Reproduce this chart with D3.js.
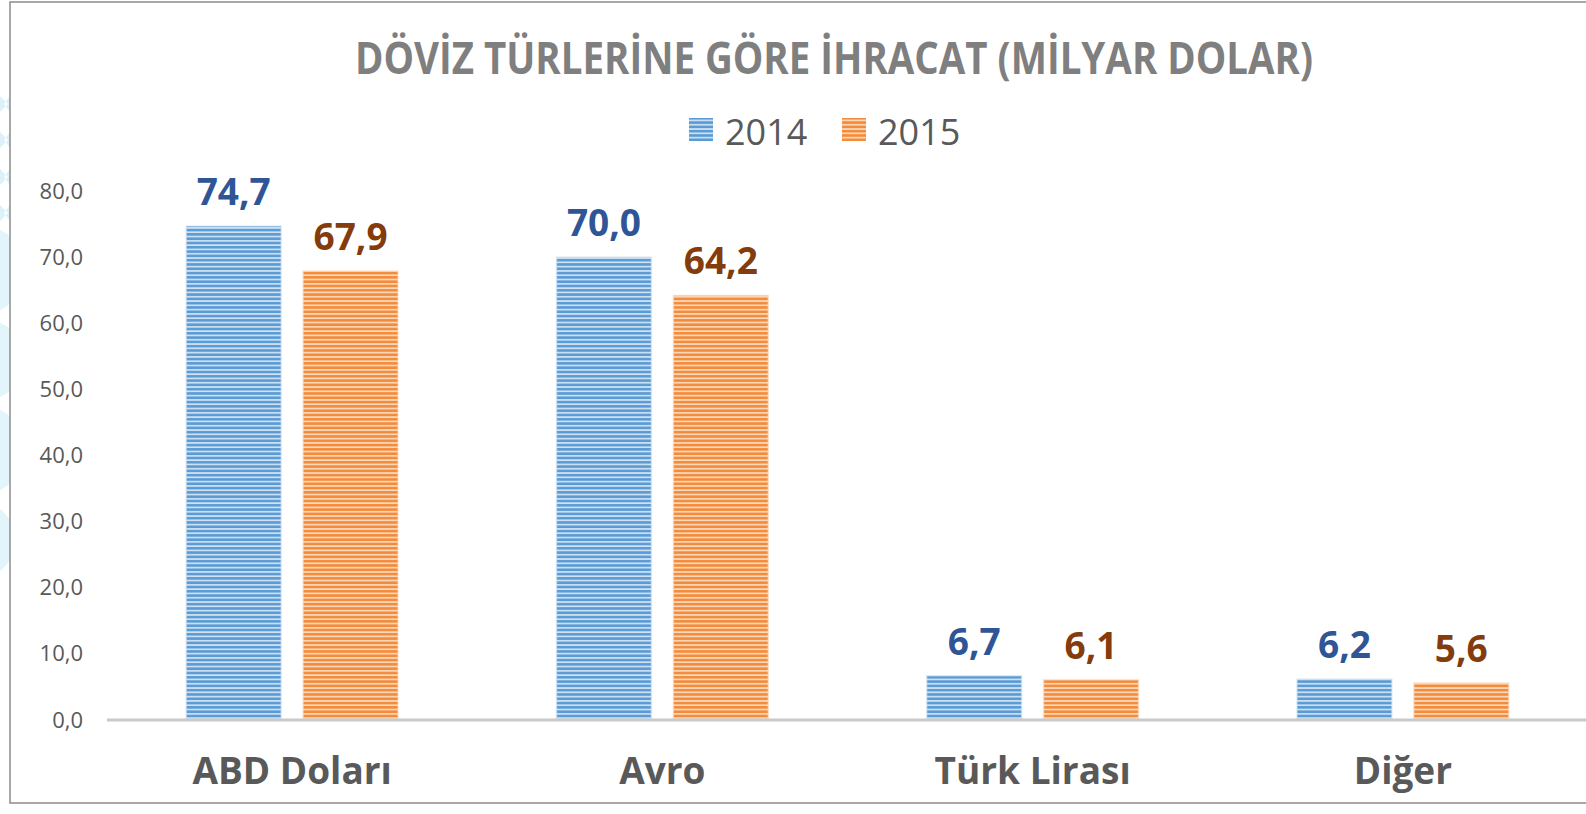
<!DOCTYPE html>
<html>
<head>
<meta charset="utf-8">
<script src="https://cdn.jsdelivr.net/npm/d3@7"></script>
<style>
  html, body { margin: 0; padding: 0; background: #ffffff; }
  svg { display: block; }
</style>
</head>
<body>
<svg id="chart" width="1586" height="814"></svg>
<script>
const title = "DÖVİZ TÜRLERİNE GÖRE İHRACAT (MİLYAR DOLAR)";
const categories = ["ABD Doları", "Avro", "Türk Lirası", "Diğer"];
const years = ["2014", "2015"];
const values2014 = [74.7, 70.0, 6.7, 6.2];
const values2015 = [67.9, 64.2, 6.1, 5.6];
const yTicks = [0, 10, 20, 30, 40, 50, 60, 70, 80];

const seriesValues = { "2014": values2014, "2015": values2015 };
const seriesStyle = {
  "2014": { dark: "#5b9bd5", light: "#cfe2f3", label: "#2f5597" },
  "2015": { dark: "#f28c3c", light: "#fcd9bb", label: "#843c0c" }
};

const fmt = v => v.toFixed(1).replace(".", ",");
const svg = d3.select("#chart");
const defs = svg.append("defs");

// stripe patterns
years.forEach(y => {
  const st = seriesStyle[y];
  const p = defs.append("pattern")
    .attr("id", "stripe" + y)
    .attr("patternUnits", "userSpaceOnUse")
    .attr("width", 8).attr("height", 4.3);
  p.append("rect").attr("width", 8).attr("height", 4.3).attr("fill", st.light);
  p.append("rect").attr("y", 0.9).attr("width", 8).attr("height", 2.6).attr("fill", st.dark);
});

// faint decorative background at the far left (outside border)
const clip = defs.append("clipPath").attr("id", "leftclip");
clip.append("rect").attr("x", 0).attr("y", 0).attr("width", 10).attr("height", 814);
const deco = svg.append("g").attr("clip-path", "url(#leftclip)");
[104, 140, 177, 213].forEach(cy => {
  deco.append("path")
    .attr("d", `M0,${cy-8} L8,${cy} L0,${cy+8} Z M10,${cy-8} L4,${cy} L10,${cy+8} Z`)
    .attr("fill", "#dcf2f8");
});
[[ -20, 270, 45], [-15, 360, 40], [-20, 450, 45], [-25, 540, 40]].forEach(([cx, cy, r]) => {
  deco.append("circle").attr("cx", cx).attr("cy", cy).attr("r", r).attr("fill", "#e2f5fa");
});

// border
svg.append("path")
  .attr("d", "M1586,2 L10,2 L10,803 L1586,803")
  .attr("fill", "none").attr("stroke", "#8c8c8c").attr("stroke-width", 1.5);

// scales
const x0 = d3.scaleBand().domain(categories).range([107, 1588])
  .paddingInner(0.428).paddingOuter(0.214);
const x1 = d3.scaleBand().domain(years).range([0, x0.bandwidth()])
  .paddingInner(0.188).paddingOuter(0);
const y = d3.scaleLinear().domain([0, 80]).range([720, 191]);

// title
svg.append("text")
  .attr("x", 834).attr("y", 74)
  .attr("text-anchor", "middle")
  .attr("font-family", "'Open Sans', sans-serif")
  .attr("font-weight", 700)
  .attr("font-size", 45)
  .attr("fill", "#7f7f7f")
  .attr("textLength", 958)
  .attr("lengthAdjust", "spacingAndGlyphs")
  .text(title);

// legend
const legendPos = { "2014": 689, "2015": 842 };
years.forEach(yr => {
  const g = svg.append("g");
  g.append("rect").attr("x", legendPos[yr]).attr("y", 118)
    .attr("width", 24).attr("height", 23)
    .attr("fill", `url(#stripe${yr})`);
  g.append("text").attr("x", legendPos[yr] + 36).attr("y", 145)
    .attr("font-family", "'Open Sans', sans-serif")
    .attr("font-size", 36).attr("fill", "#595959")
    .text(yr);
});

// y axis (labels only)
const yAxis = d3.axisLeft(y).tickValues(yTicks).tickFormat(fmt).tickSize(0).tickPadding(0);
const yg = svg.append("g").attr("transform", "translate(83,0)").call(yAxis);
yg.select(".domain").remove();
yg.selectAll("text")
  .attr("font-family", "'Open Sans', sans-serif")
  .attr("font-size", 22)
  .attr("fill", "#595959");

// bars
const groups = svg.append("g").selectAll("g")
  .data(categories).join("g")
  .attr("transform", d => `translate(${x0(d)},0)`);

groups.each(function(cat, i) {
  const g = d3.select(this);
  years.forEach(yr => {
    const v = seriesValues[yr][i];
    g.append("rect")
      .attr("x", x1(yr)).attr("y", y(v))
      .attr("width", x1.bandwidth()).attr("height", y(0) - y(v))
      .attr("fill", `url(#stripe${yr})`)
      .attr("stroke", seriesStyle[yr].light)
      .attr("stroke-opacity", 0.6)
      .attr("stroke-width", 1.5);
    g.append("text")
      .attr("x", x1(yr) + x1.bandwidth() / 2)
      .attr("y", y(v) - 21)
      .attr("text-anchor", "middle")
      .attr("font-family", "'Open Sans', sans-serif")
      .attr("font-weight", 700)
      .attr("font-size", 37)
      .attr("fill", seriesStyle[yr].label)
      .text(fmt(v));
  });
});

// baseline
svg.append("line")
  .attr("x1", 107).attr("x2", 1586)
  .attr("y1", y(0)).attr("y2", y(0))
  .attr("stroke", "#c9c9c9").attr("stroke-width", 3);

// x axis labels
const xAxis = d3.axisBottom(x0).tickSize(0).tickPadding(0);
const xg = svg.append("g").attr("transform", "translate(0,758)").call(xAxis);
xg.select(".domain").remove();
xg.selectAll("text")
  .attr("dy", "0.71em")
  .attr("font-family", "'Open Sans', sans-serif")
  .attr("font-weight", 700)
  .attr("font-size", 37)
  .attr("fill", "#595959");
</script>
</body>
</html>
